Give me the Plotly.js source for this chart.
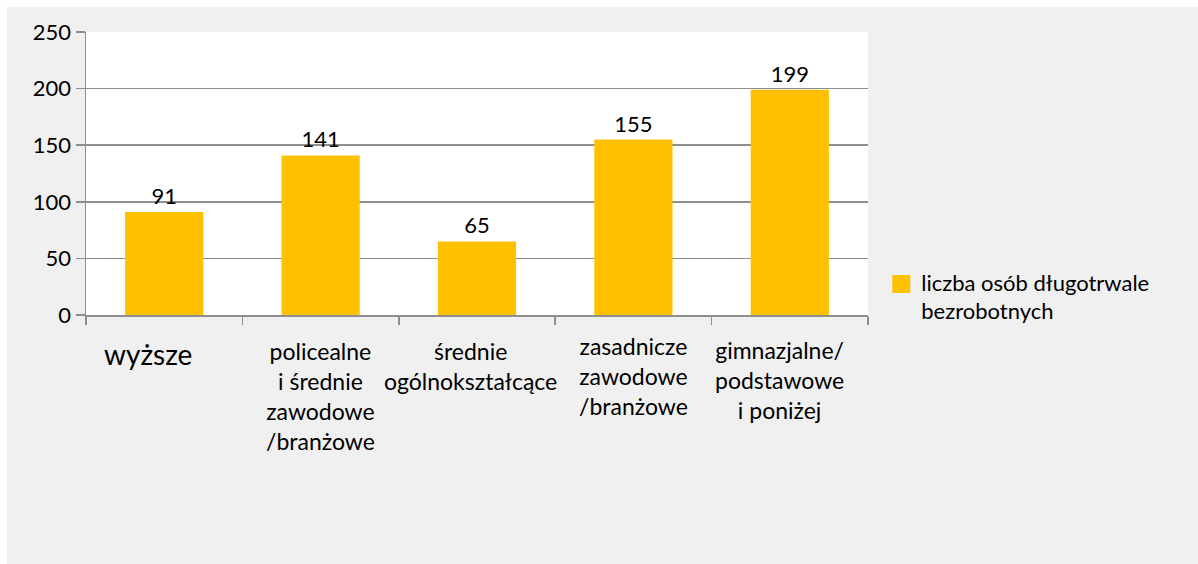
<!DOCTYPE html>
<html><head><meta charset="utf-8">
<script src="https://cdn.plot.ly/plotly-3.0.1.min.js"></script>
<style>html,body{margin:0;padding:0;background:#fff;}#chart{position:absolute;left:7px;top:7px;width:1191px;height:557px;}</style>
</head><body><div id="chart"></div>
<script>
const categories = ['wyższe', 'policealne i średnie zawodowe/branżowe', 'średnie ogólnokształcące', 'zasadnicze zawodowe/branżowe', 'gimnazjalne/podstawowe i poniżej'];
const tickLabels = ['wyższe', 'policealne<br>i średnie<br>zawodowe<br>/branżowe', 'średnie<br>ogólnokształcące', 'zasadnicze<br>zawodowe<br>/branżowe', 'gimnazjalne/<br>podstawowe<br>i poniżej'];
const values = [91, 141, 65, 155, 199];
const seriesName = 'liczba osób długotrwale<br>bezrobotnych';
const yTicks = [0, 50, 100, 150, 200, 250];

const FONT = 'Lato, "Open Sans", sans-serif';
const GRID = '#8e8e8e';
const labelSizes = [28, 23, 23, 23, 23];
const labelShiftX = [-16, 0, -7, 0, -10];
const labelShiftY = [-20, -20, -20, -15, -19];

const trace = {
  type: 'bar',
  x: categories,
  y: values,
  name: seriesName,
  marker: {color: '#FFC000'},
  text: values.map(String),
  textposition: 'outside',
  textfont: {family: FONT, size: 22, color: '#000'},
  cliponaxis: false,
  hoverinfo: 'x+y'
};

const annotations = categories.map((c, i) => ({
  x: c, xref: 'x', y: 0, yref: 'paper', yanchor: 'top', xanchor: 'center',
  text: tickLabels[i], showarrow: false, align: 'center',
  xshift: labelShiftX[i], yshift: labelShiftY[i],
  font: {family: FONT, size: labelSizes[i], color: '#000'}
}));

const layout = {
  width: 1191, height: 557,
  paper_bgcolor: '#f0f0f0', plot_bgcolor: '#ffffff',
  margin: {l: 79, r: 330, t: 25, b: 249},
  bargap: 0.5,
  showlegend: true,
  legend: {x: 1.017, xanchor: 'left', y: 0.19, yanchor: 'top', bgcolor: 'rgba(0,0,0,0)',
           font: {family: FONT, size: 22, color: '#000'}, valign: 'top'},
  xaxis: {type: 'category', showticklabels: false, tickson: 'boundaries', ticks: 'outside', ticklen: 8,
          tickcolor: GRID, tickwidth: 1.5, showline: true, linecolor: GRID, linewidth: 1.5, showgrid: false},
  yaxis: {range: [0, 250], tickvals: yTicks, ticktext: yTicks.map(String), ticks: 'outside', ticklen: 9,
          tickcolor: GRID, tickwidth: 1.5, showline: true, linecolor: GRID, linewidth: 1.5,
          showgrid: true, gridcolor: GRID, gridwidth: 1.5, zeroline: false,
          tickfont: {family: FONT, size: 22, color: '#000'}},
  annotations: annotations,
  font: {family: FONT}
};

Plotly.newPlot('chart', [trace], layout, {displayModeBar: false, staticPlot: true}).then(gd => {
  gd.querySelectorAll('.legend .legendpoints path').forEach(p => {
    p.setAttribute('d', 'M9,11H-9V-7H9Z');
  });
});
</script></body></html>
